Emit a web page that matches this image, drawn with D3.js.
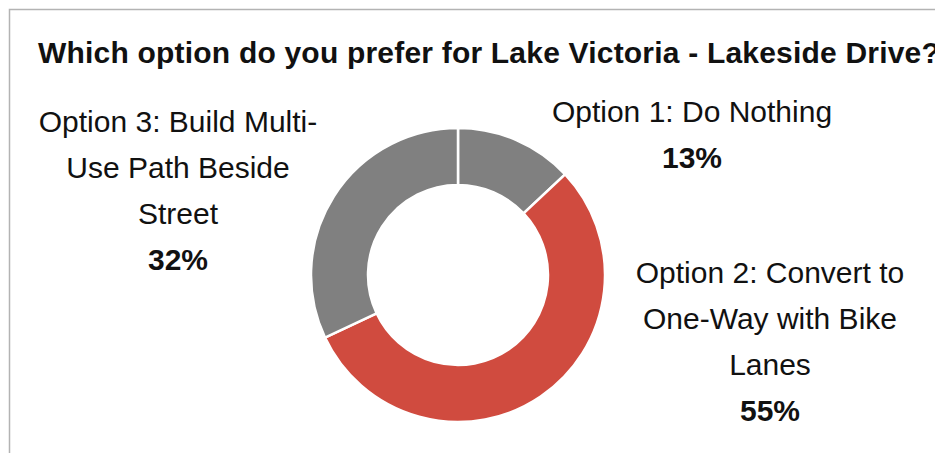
<!DOCTYPE html>
<html>
<head>
<meta charset="utf-8">
<script src="https://cdn.jsdelivr.net/npm/d3@7"></script>
<style>
  html, body { margin: 0; padding: 0; background: #fff; overflow: hidden; }
  text { font-family: "Liberation Sans", Arial, sans-serif; fill: #111; }
</style>
</head>
<body>
<svg id="chart" width="935" height="453"></svg>
<script>
const title = "Which option do you prefer for Lake Victoria - Lakeside Drive?"
const categories = ["Option 1: Do Nothing", "Option 2: Convert to One-Way with Bike Lanes", "Option 3: Build Multi-Use Path Beside Street"]
const values = [13, 55, 32]
const colors = ["#808080", "#d04b3f", "#808080"]
// how each label wraps, as in the picture
const labelLines = [
  ["Option 1: Do Nothing"],
  ["Option 2: Convert to", "One-Way with Bike", "Lanes"],
  ["Option 3: Build Multi-", "Use Path Beside", "Street"]
]

const svg = d3.select("#chart")
const cx = 458, cy = 275
const outerR = 147, innerR = 90

// frame lines (top and left)
svg.append("path")
  .attr("d", "M9.5,453 L9.5,9.5 L935,9.5")
  .attr("fill", "none")
  .attr("stroke", "#b3b3b3")
  .attr("stroke-width", 1.5)

svg.append("text")
  .attr("x", 38)
  .attr("y", 63)
  .style("font-size", "30px")
  .style("font-weight", "bold")
  .style("letter-spacing", "0.2px")
  .text(title)

let pie = d3.pie().sort(null).value(d => d)
let arcs = pie(values)
let arc = d3.arc().innerRadius(innerR).outerRadius(outerR)

let g = svg.append("g").attr("transform", `translate(${cx},${cy})`)

g.selectAll("path.slice")
  .data(arcs)
  .enter()
  .append("path")
  .classed("slice", true)
  .attr("d", arc)
  .attr("fill", (d, i) => colors[i])
  .attr("stroke", "#fff")
  .attr("stroke-width", 2.5)

// label anchors (centre x, first baseline)
const labelPos = [
  { x: 692, y: 122 },
  { x: 770, y: 283 },
  { x: 178, y: 132 }
]
const lineH = 46

labelLines.forEach((lines, i) => {
  let t = svg.append("text")
    .attr("text-anchor", "middle")
    .style("font-size", "30px")
  lines.forEach((line, j) => {
    t.append("tspan")
      .attr("x", labelPos[i].x)
      .attr("y", labelPos[i].y + j * lineH)
      .text(line)
  })
  t.append("tspan")
    .attr("x", labelPos[i].x)
    .attr("y", labelPos[i].y + lines.length * lineH)
    .style("font-weight", "bold")
    .text(values[i] + "%")
})
</script>
</body>
</html>
